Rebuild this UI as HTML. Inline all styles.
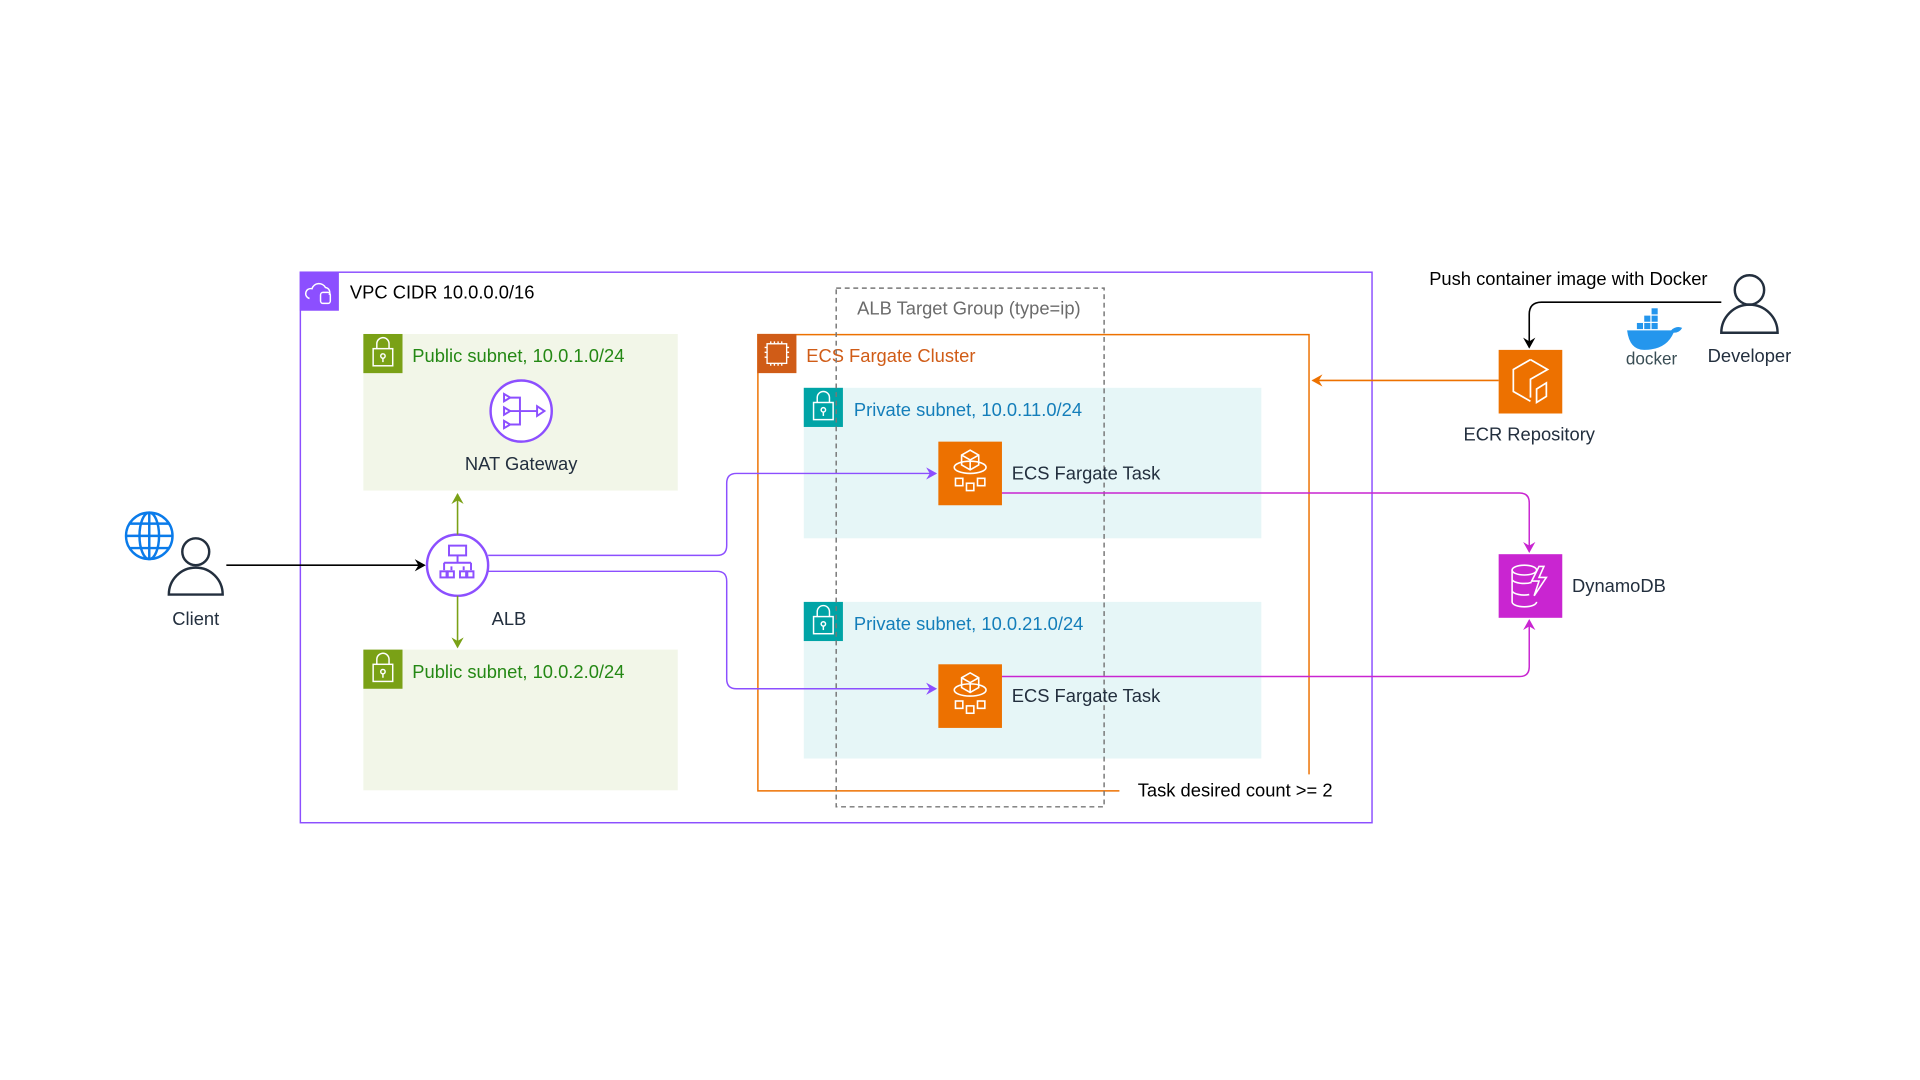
<!DOCTYPE html>
<html><head><meta charset="utf-8"><style>html,body{margin:0;padding:0;background:#fff}svg{display:block}text{font-family:"Liberation Sans",Arial,sans-serif}</style></head>
<body>
<svg width="1920" height="1080" viewBox="0 0 1569.4 882.8" xmlns="http://www.w3.org/2000/svg">
<defs>
<marker id="ab" markerWidth="10" markerHeight="10" refX="8" refY="5" orient="auto" markerUnits="userSpaceOnUse"><path d="M0,0 L9,5 L0,10 L3,5 Z" fill="#000"/></marker>
<marker id="ag" markerWidth="10" markerHeight="10" refX="8" refY="5" orient="auto" markerUnits="userSpaceOnUse"><path d="M0,0 L9,5 L0,10 L3,5 Z" fill="#7AA116"/></marker>
<marker id="ap" markerWidth="10" markerHeight="10" refX="8" refY="5" orient="auto" markerUnits="userSpaceOnUse"><path d="M0,0 L9,5 L0,10 L3,5 Z" fill="#8C4FFF"/></marker>
<marker id="am" markerWidth="10" markerHeight="10" refX="8" refY="5" orient="auto" markerUnits="userSpaceOnUse"><path d="M0,0 L9,5 L0,10 L3,5 Z" fill="#C925D1"/></marker>
<marker id="ao" markerWidth="10" markerHeight="10" refX="8" refY="5" orient="auto" markerUnits="userSpaceOnUse"><path d="M0,0 L9,5 L0,10 L3,5 Z" fill="#ED7100"/></marker>
</defs>

<rect x="245.5" y="222.5" width="876" height="450" fill="none" stroke="#8C4FFF" stroke-width="1.2"/>
<rect x="245" y="222" width="32" height="32" fill="#8C4FFF"/>
<path d="M253,244 a4,4 0 0 1 2,-8 a6,6 0 0 1 11,-1 a4,4 0 0 1 3,6" fill="none" stroke="#fff" stroke-width="1.2"/>
<rect x="262" y="239" width="8" height="9" rx="2" fill="none" stroke="#fff" stroke-width="1.2"/>
<text x="286" y="244" font-size="15" fill="#000">VPC CIDR 10.0.0.0/16</text>

<rect x="297" y="273" width="257" height="128" fill="#F2F6E8"/>
<rect x="297" y="273" width="32" height="32" fill="#7AA116"/>
<g fill="none" stroke="#fff" stroke-width="1.2"><rect x="305" y="285" width="16" height="14"/><path d="M308,285 v-4 a5,5 0 0 1 10,0 v4"/><circle cx="313" cy="291" r="1.8"/><path d="M313,293 v3"/></g>
<text x="337" y="296" font-size="15" fill="#248814">Public subnet, 10.0.1.0/24</text>

<rect x="297" y="531" width="257" height="115" fill="#F2F6E8"/>
<rect x="297" y="531" width="32" height="32" fill="#7AA116"/>
<g fill="none" stroke="#fff" stroke-width="1.2"><rect x="305" y="543" width="16" height="14"/><path d="M308,543 v-4 a5,5 0 0 1 10,0 v4"/><circle cx="313" cy="549" r="1.8"/><path d="M313,551 v3"/></g>
<text x="337" y="554" font-size="15" fill="#248814">Public subnet, 10.0.2.0/24</text>

<circle cx="426" cy="336" r="25" fill="#fff" stroke="#8C4FFF" stroke-width="2"/>
<g fill="none" stroke="#8C4FFF" stroke-width="1.6"><path d="M412,322 l5,3 l-5,3 z M412,333 l5,3 l-5,3 z M412,344 l5,3 l-5,3 z"/><path d="M417,325 h8 v22 h-8 M417,336 h22"/><path d="M439,332 l6,4 l-6,4 z"/></g>
<text x="426" y="384" font-size="15" fill="#232F3E" text-anchor="middle">NAT Gateway</text>

<circle cx="374" cy="462" r="25" fill="#fff" stroke="#8C4FFF" stroke-width="2"/>
<g fill="none" stroke="#8C4FFF" stroke-width="1.6"><rect x="367" y="446" width="14" height="8"/><path d="M374,454 v6 M363,460 h22 M363,460 v6 M385,460 v6 M369,463 v3 M379,463 v3"/><rect x="360" y="467" width="5" height="5"/><rect x="366" y="467" width="5" height="5"/><rect x="376" y="467" width="5" height="5"/><rect x="382" y="467" width="5" height="5"/></g>
<text x="416" y="511" font-size="15" fill="#232F3E" text-anchor="middle">ALB</text>

<line x1="374" y1="437" x2="374" y2="404" stroke="#7AA116" stroke-width="1.3" marker-end="url(#ag)"/>
<line x1="374" y1="487" x2="374" y2="529" stroke="#7AA116" stroke-width="1.3" marker-end="url(#ag)"/>

<g fill="none" stroke="#0A7BEA" stroke-width="2"><circle cx="122" cy="438" r="19"/><ellipse cx="122" cy="438" rx="8" ry="19"/><path d="M103,438 h38 M122,419 v38 M106,428 h32 M106,448 h32"/></g>
<g fill="none" stroke="#232F3E" stroke-width="2"><circle cx="160" cy="451" r="11"/><path d="M138,486 a22,22 0 0 1 44,0 z"/></g>
<text x="160" y="511" font-size="15" fill="#232F3E" text-anchor="middle">Client</text>
<line x1="185" y1="462" x2="347" y2="462" stroke="#000" stroke-width="1.3" marker-end="url(#ab)"/>

<path d="M1070,633 V273.5 H619.5 V646.5 H915" fill="none" stroke="#ED7100" stroke-width="1.2"/>
<rect x="619" y="273" width="32" height="32" fill="#D05C17"/>
<g fill="none" stroke="#fff" stroke-width="1.1"><rect x="627" y="281" width="16" height="16"/><path d="M630,279 v2 M633,279 v2 M636,279 v2 M639,279 v2 M630,297 v2 M633,297 v2 M636,297 v2 M639,297 v2 M625,284 h2 M625,288 h2 M625,292 h2 M643,284 h2 M643,288 h2 M643,292 h2"/></g>
<text x="659" y="296" font-size="15" fill="#D05C17">ECS Fargate Cluster</text>

<rect x="657" y="317" width="374" height="123" fill="#E6F6F7"/>
<rect x="657" y="317" width="32" height="32" fill="#00A4A6"/>
<g fill="none" stroke="#fff" stroke-width="1.2"><rect x="665" y="329" width="16" height="14"/><path d="M668,329 v-4 a5,5 0 0 1 10,0 v4"/><circle cx="673" cy="335" r="1.8"/><path d="M673,337 v3"/></g>
<text x="698" y="340" font-size="15" fill="#147EBA">Private subnet, 10.0.11.0/24</text>

<rect x="657" y="492" width="374" height="128" fill="#E6F6F7"/>
<rect x="657" y="492" width="32" height="32" fill="#00A4A6"/>
<g fill="none" stroke="#fff" stroke-width="1.2"><rect x="665" y="504" width="16" height="14"/><path d="M668,504 v-4 a5,5 0 0 1 10,0 v4"/><circle cx="673" cy="510" r="1.8"/><path d="M673,512 v3"/></g>
<text x="698" y="515" font-size="15" fill="#147EBA">Private subnet, 10.0.21.0/24</text>

<rect x="683.5" y="235.5" width="219" height="424" fill="none" stroke="#777" stroke-width="1.2" stroke-dasharray="4,3"/>
<text x="792" y="257" font-size="15" fill="#6B6B6B" text-anchor="middle">ALB Target Group (type=ip)</text>

<g>
<rect x="767" y="361" width="52" height="52" fill="#ED7100"/>
<g fill="none" stroke="#fff" stroke-width="1.3"><path d="M786,372 l7,-4 l7,4 v8 l-7,4 l-7,-4 z M786,372 l7,4 l7,-4 M793,376 v8"/><ellipse cx="793" cy="382" rx="13" ry="5"/><rect x="781" y="391" width="6" height="6"/><rect x="790" y="395" width="6" height="6"/><rect x="799" y="391" width="6" height="6"/></g>
</g>
<text x="827" y="392" font-size="15" fill="#232F3E">ECS Fargate Task</text>
<g transform="translate(0,182)">
<rect x="767" y="361" width="52" height="52" fill="#ED7100"/>
<g fill="none" stroke="#fff" stroke-width="1.3"><path d="M786,372 l7,-4 l7,4 v8 l-7,4 l-7,-4 z M786,372 l7,4 l7,-4 M793,376 v8"/><ellipse cx="793" cy="382" rx="13" ry="5"/><rect x="781" y="391" width="6" height="6"/><rect x="790" y="395" width="6" height="6"/><rect x="799" y="391" width="6" height="6"/></g>
</g>
<text x="827" y="574" font-size="15" fill="#232F3E">ECS Fargate Task</text>
<text x="930" y="651" font-size="15" fill="#000">Task desired count &gt;= 2</text>

<path d="M399,454 H586 Q594,454 594,446 V395 Q594,387 602,387 H765" fill="none" stroke="#8C4FFF" stroke-width="1.2" marker-end="url(#ap)"/>
<path d="M399,467 H586 Q594,467 594,475 V555 Q594,563 602,563 H765" fill="none" stroke="#8C4FFF" stroke-width="1.2" marker-end="url(#ap)"/>

<path d="M819,403 H1242 Q1250,403 1250,411 V451" fill="none" stroke="#C925D1" stroke-width="1.2" marker-end="url(#am)"/>
<path d="M819,553 H1242 Q1250,553 1250,545 V507" fill="none" stroke="#C925D1" stroke-width="1.2" marker-end="url(#am)"/>

<rect x="1225" y="286" width="52" height="52" fill="#ED7100"/>
<g fill="none" stroke="#fff" stroke-width="1.4"><path d="M1251,294 l-14,8 v18 l14,8 M1251,294 l14,8 l-14,8 v15"/><path d="M1256,318 l8,-5 v11 l-8,5 z"/></g>
<text x="1250" y="360" font-size="15" fill="#232F3E" text-anchor="middle">ECR Repository</text>
<line x1="1225" y1="311" x2="1073" y2="311" stroke="#ED7100" stroke-width="1.3" marker-end="url(#ao)"/>

<g fill="none" stroke="#232F3E" stroke-width="2"><circle cx="1430" cy="237" r="12"/><path d="M1407,272 a23,23 0 0 1 46,0 z"/></g>
<text x="1430" y="296" font-size="15" fill="#232F3E" text-anchor="middle">Developer</text>
<text x="1282" y="233" font-size="15" fill="#000" text-anchor="middle">Push container image with Docker</text>
<path d="M1407,247 H1260 Q1250,247 1250,257 V284" fill="none" stroke="#000" stroke-width="1.3" marker-end="url(#ab)"/>

<g fill="#2496ED"><path d="M1330,270 h36 q4,-4 9,-2 q-2,4 -7,4 q-6,14 -24,14 q-12,0 -14,-16 z"/><rect x="1338" y="264" width="5" height="5"/><rect x="1344" y="264" width="5" height="5"/><rect x="1350" y="264" width="5" height="5"/><rect x="1344" y="258" width="5" height="5"/><rect x="1350" y="258" width="5" height="5"/><rect x="1350" y="252" width="5" height="5"/></g>
<text x="1350" y="298" font-size="14" fill="#394D54" text-anchor="middle">docker</text>

<rect x="1225" y="453" width="52" height="52" fill="#C925D1"/>
<g fill="none" stroke="#fff" stroke-width="1.3"><ellipse cx="1246" cy="466" rx="10" ry="4"/><path d="M1236,466 v26 a10,4 0 0 0 20,0 M1236,474 a10,4 0 0 0 16,2 M1236,483 a10,4 0 0 0 14,3"/><path d="M1258,463 l-6,12 h6 l-4,12 l10,-15 h-6 l4,-9 z"/></g>
<text x="1285" y="484" font-size="15" fill="#232F3E">DynamoDB</text>
</svg>
</body></html>
